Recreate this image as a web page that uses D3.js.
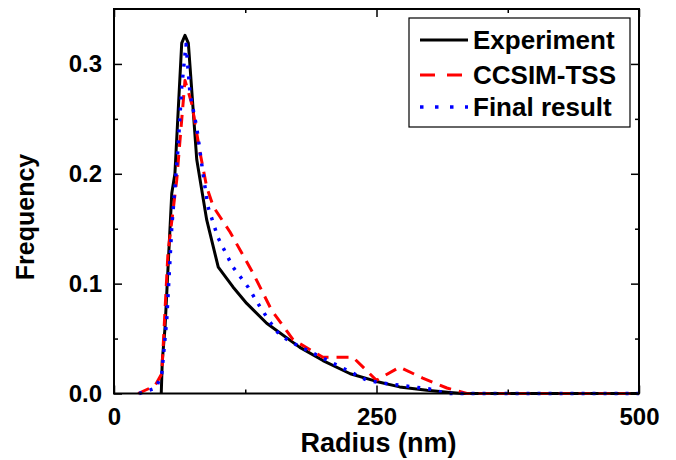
<!DOCTYPE html>
<html>
<head>
<meta charset="utf-8">
<script src="https://d3js.org/d3.v7.min.js"></script>
<style>
  body { margin: 0; background: #fff; }
  text { font-family: "Liberation Sans", Arial, sans-serif; font-weight: bold; }
</style>
</head>
<body>
<svg id="chart"></svg>
<script>
// Radius (nm) / frequency
const expRadius = [45, 46, 48.6, 55, 58, 64.5, 67.6, 70.8, 78.8, 88.3, 99.3, 113.3, 126.4, 145.4, 177, 199, 225, 250, 272, 298, 320, 332, 500];
const expFreq   = [0, 0.03, 0.060, 0.182, 0.200, 0.319, 0.326, 0.319, 0.213, 0.158, 0.115, 0.097, 0.082, 0.064, 0.042, 0.030, 0.018, 0.011, 0.006, 0.003, 0.001, 0, 0];

const tssRadius = [23, 39, 45.5, 51.4, 59.7, 67.6, 74, 82, 88.3, 94.6, 110.5, 132.7, 150, 170.5, 199, 227.6, 250, 272, 294, 317, 336, 500];
const tssFreq   = [0, 0.007, 0.018, 0.128, 0.194, 0.285, 0.264, 0.219, 0.188, 0.17, 0.147, 0.109, 0.076, 0.049, 0.033, 0.033, 0.012, 0.024, 0.014, 0.005, 0, 0];

const finRadius = [24, 40, 45.5, 50.2, 55, 61, 64.5, 68.6, 72.4, 78.8, 84.8, 89.5, 99, 113.3, 127.6, 139, 148.6, 158, 170.5, 184.8, 212, 241, 256, 285, 301, 317, 500];
const finFreq   = [0, 0.005, 0.018, 0.067, 0.151, 0.224, 0.279, 0.318, 0.273, 0.242, 0.2, 0.17, 0.142, 0.115, 0.097, 0.079, 0.065, 0.053, 0.046, 0.039, 0.026, 0.012, 0.0095, 0.006, 0.004, 0, 0];

const xTicks = [0, 250, 500];
const xMinor = [125, 375];
const yTicks = [0, 0.1, 0.2, 0.3];
const yMinor = [0.05, 0.15, 0.25];

const seriesNames = ["Experiment", "CCSIM-TSS", "Final result"];

const width = 676, height = 460;
const margin = {top: 9, right: 37, bottom: 66.5, left: 114};
const innerW = width - margin.left - margin.right;
const innerH = height - margin.top - margin.bottom;

const svg = d3.select("#chart").attr("width", width).attr("height", height);
const chart = svg.append("g").attr("transform", `translate(${margin.left},${margin.top})`);

const xScale = d3.scaleLinear().domain([0, 500]).range([0, innerW]);
const yScale = d3.scaleLinear().domain([0, 0.35]).range([innerH, 0]);

const styles = [
  {color: "#000000", dash: null, width: 3},
  {color: "#ff0000", dash: "12,8", width: 3},
  {color: "#0000ff", dash: "3,8", width: 3.5}
];

const series = [
  expRadius.map((r, i) => ({r, f: expFreq[i]})),
  tssRadius.map((r, i) => ({r, f: tssFreq[i]})),
  finRadius.map((r, i) => ({r, f: finFreq[i]}))
];

const line = d3.line().x(d => xScale(d.r)).y(d => yScale(d.f));

series.forEach((s, i) => {
  chart.append("path")
    .datum(s)
    .attr("fill", "none")
    .attr("stroke", styles[i].color)
    .attr("stroke-width", styles[i].width)
    .attr("stroke-dasharray", styles[i].dash)
    .attr("stroke-linejoin", "round")
    .attr("d", line);
});

// Axes: ticks pointing inward, mirrored on top / right
const fontSize = 24;
const bottomAxis = d3.axisBottom(xScale).tickValues(xTicks).tickSize(-8).tickPadding(14).tickFormat(d3.format("d"));
const bottomMinor = d3.axisBottom(xScale).tickValues(xMinor).tickSize(-4).tickFormat("");
const topAxis = d3.axisTop(xScale).tickValues(xTicks).tickSize(-8).tickFormat("");
const topMinor = d3.axisTop(xScale).tickValues(xMinor).tickSize(-4).tickFormat("");
const leftAxis = d3.axisLeft(yScale).tickValues(yTicks).tickSize(-8).tickPadding(12).tickFormat(d3.format(".1f"));
const leftMinor = d3.axisLeft(yScale).tickValues(yMinor).tickSize(-4).tickFormat("");
const rightAxis = d3.axisRight(yScale).tickValues(yTicks).tickSize(-8).tickFormat("");
const rightMinor = d3.axisRight(yScale).tickValues(yMinor).tickSize(-4).tickFormat("");

function styleAxis(g) {
  g.select(".domain").remove();
  g.selectAll("line").attr("stroke", "#000").attr("stroke-width", 1.5);
  g.selectAll("text").attr("fill", "#000").style("font-size", fontSize + "px");
}

chart.append("g").attr("transform", `translate(0,${innerH})`).call(bottomAxis).call(styleAxis);
chart.append("g").attr("transform", `translate(0,${innerH})`).call(bottomMinor).call(styleAxis);
chart.append("g").call(topAxis).call(styleAxis);
chart.append("g").call(topMinor).call(styleAxis);
chart.append("g").call(leftAxis).call(styleAxis);
chart.append("g").call(leftMinor).call(styleAxis);
chart.append("g").attr("transform", `translate(${innerW},0)`).call(rightAxis).call(styleAxis);
chart.append("g").attr("transform", `translate(${innerW},0)`).call(rightMinor).call(styleAxis);

// frame
chart.append("rect")
  .attr("width", innerW).attr("height", innerH)
  .attr("fill", "none").attr("stroke", "#000").attr("stroke-width", 2);

// Axis titles
svg.append("text")
  .attr("x", margin.left + innerW / 2 + 2)
  .attr("y", 452)
  .attr("text-anchor", "middle")
  .style("font-size", "27px")
  .text("Radius (nm)");

svg.append("text")
  .attr("transform", "translate(34,217) rotate(-90)")
  .attr("text-anchor", "middle")
  .style("font-size", "25px")
  .text("Frequency");

// Legend
const legend = svg.append("g").attr("class", "legend");
legend.append("rect")
  .attr("x", 409).attr("y", 18).attr("width", 221).attr("height", 109)
  .attr("fill", "#fff").attr("stroke", "#000").attr("stroke-width", 1.2);

const rowY = [40, 75, 107];
seriesNames.forEach((name, i) => {
  legend.append("line")
    .attr("x1", 420).attr("x2", 468)
    .attr("y1", rowY[i]).attr("y2", rowY[i])
    .attr("stroke", styles[i].color)
    .attr("stroke-width", styles[i].width)
    .attr("stroke-dasharray", i === 1 ? "15,12" : i === 2 ? "3.5,11.5" : null);
  legend.append("text")
    .attr("x", 473).attr("y", rowY[i] + 8.5)
    .style("font-size", "26px")
    .text(name);
});
</script>
</body>
</html>
